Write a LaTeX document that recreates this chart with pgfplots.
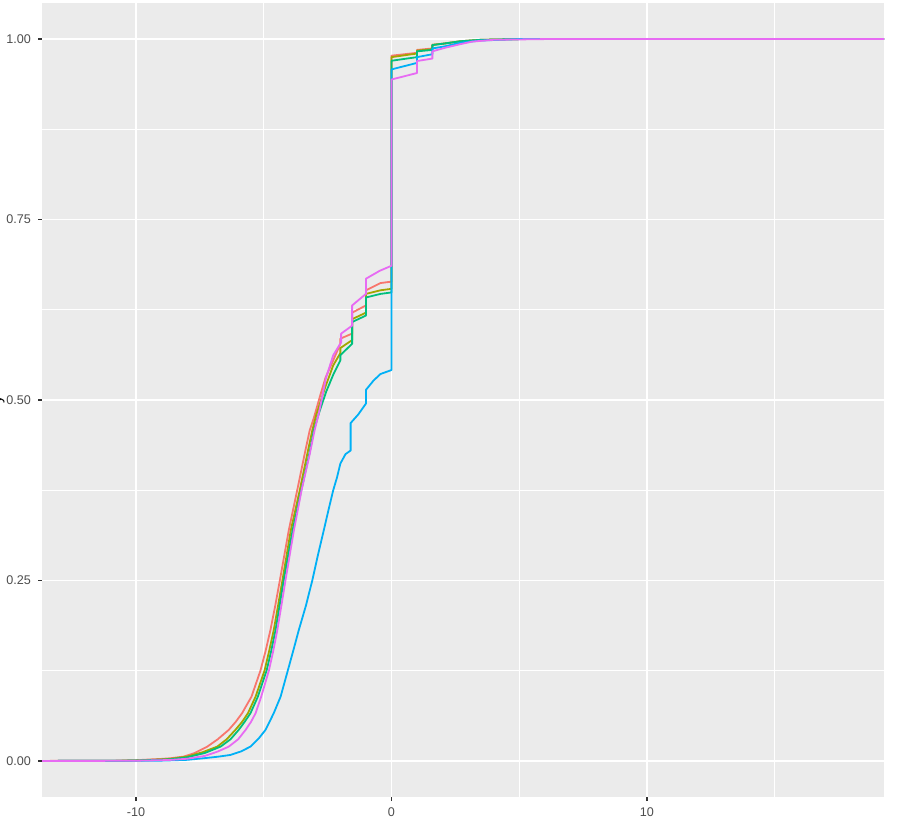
\documentclass[border=0pt]{standalone}
\usepackage{pgfplots}
\pgfplotsset{compat=1.18}
\usepackage{fontspec}
\setmainfont{Liberation Sans}
\definecolor{panelbg}{HTML}{EBEBEB}
\definecolor{tickc}{HTML}{333333}
\definecolor{labc}{HTML}{4D4D4D}
\definecolor{cA}{HTML}{F8766D}
\definecolor{cB}{HTML}{A3A500}
\definecolor{cC}{HTML}{00BF7D}
\definecolor{cD}{HTML}{00B0F6}
\definecolor{cE}{HTML}{E76BF3}
\begin{document}
\begin{tikzpicture}
\begin{axis}[name=ax, width=421pt, height=397pt, scale only axis,
 xmin=-13.68, xmax=19.28, ymin=-0.05, ymax=1.05,
 axis background/.style={fill=panelbg},
 axis line style={draw=none},
 xtick={-10,0,10}, xticklabels={-10,0,10},
 ytick={0,0.25,0.5,0.75,1}, yticklabels={0.00,0.25,0.50,0.75,1.00},
 minor xtick={-5,5,15}, minor ytick={0.125,0.375,0.625,0.875},
 grid=both,
 major grid style={white, line width=0.75pt},
 minor grid style={white, line width=0.4pt},
 tick align=outside, xtick pos=bottom, ytick pos=left,
 major tick length=2pt, minor tick length=0pt,
 tick style={color=tickc, line width=0.6pt},
 tick label style={font=\fontsize{6.3}{7}\selectfont, text=labc},
 /pgf/number format/assume math mode=true,
 every axis plot/.append style={line width=0.9pt, no marks, line join=round},
]
\addplot[cA] coordinates {(-13.68,0) (-11,0.0002) (-10,0.001) (-9,0.0028) (-8.65,0.0037) (-8.13,0.006) (-7.7,0.011) (-7.21,0.0198) (-6.8,0.03) (-6.37,0.043) (-6.1,0.054) (-5.85,0.066) (-5.48,0.089) (-5.13,0.125) (-4.93,0.152) (-4.74,0.181) (-4.55,0.215) (-4.37,0.25) (-4.02,0.3195) (-3.69,0.375) (-3.37,0.43) (-3.2,0.458) (-3.04,0.475) (-2.8,0.505) (-2.58,0.531) (-2.28,0.555) (-2,0.578) (-2,0.585) (-1.54,0.592) (-1.54,0.621) (-1,0.631) (-1,0.652) (-0.43,0.662) (0,0.664) (0,0.977) (1,0.981) (1,0.985) (1.6,0.987) (1.6,0.992) (2.1,0.994) (2.7,0.997) (3.5,0.999) (5,1) (19.28,1)};
\addplot[cB] coordinates {(-13.68,0) (-11,0.0001) (-10,0.0007) (-9,0.002) (-8.65,0.0028) (-8,0.006) (-7.4,0.012) (-6.82,0.0198) (-6.45,0.03) (-6.11,0.043) (-5.85,0.054) (-5.62,0.066) (-5.32,0.089) (-4.97,0.125) (-4.79,0.152) (-4.61,0.181) (-4.44,0.215) (-4.27,0.25) (-3.94,0.3195) (-3.59,0.375) (-3.28,0.428) (-3.1,0.458) (-2.94,0.48) (-2.6,0.517) (-2.28,0.548) (-2,0.565) (-2,0.572) (-1.54,0.583) (-1.54,0.612) (-1,0.621) (-1,0.647) (-0.43,0.652) (0,0.654) (0,0.975) (1,0.98) (1,0.984) (1.6,0.986) (1.6,0.992) (2.1,0.994) (2.7,0.997) (3.5,0.999) (5,1) (19.28,1)};
\addplot[cC] coordinates {(-13.68,0) (-11,0.0001) (-10,0.0005) (-9,0.0017) (-8.65,0.0024) (-8,0.005) (-7.3,0.011) (-6.69,0.0198) (-6.3,0.03) (-5.98,0.043) (-5.75,0.054) (-5.52,0.066) (-5.23,0.089) (-4.89,0.125) (-4.71,0.152) (-4.54,0.181) (-4.38,0.215) (-4.22,0.25) (-3.87,0.3195) (-3.53,0.375) (-3.2,0.428) (-3.04,0.458) (-2.81,0.485) (-2.55,0.512) (-2.28,0.535) (-2,0.555) (-2,0.562) (-1.54,0.578) (-1.54,0.608) (-1,0.617) (-1,0.642) (-0.43,0.647) (0,0.649) (0,0.97) (1,0.975) (1,0.983) (1.6,0.985) (1.6,0.9917) (2.1,0.994) (2.7,0.997) (3.5,0.999) (5,1) (19.28,1)};
\addplot[cD] coordinates {(-13.68,0) (-11,0.0001) (-10,0.0001) (-9,0.0004) (-8,0.0015) (-7.35,0.0037) (-6.8,0.0058) (-6.3,0.0083) (-5.9,0.013) (-5.52,0.0198) (-5.2,0.031) (-4.93,0.043) (-4.61,0.066) (-4.34,0.089) (-4.06,0.125) (-3.85,0.152) (-3.63,0.181) (-3.35,0.215) (-3.1,0.25) (-2.88,0.285) (-2.65,0.3195) (-2.45,0.35) (-2.28,0.375) (-2.13,0.393) (-2,0.412) (-1.8,0.425) (-1.6,0.43) (-1.6,0.468) (-1.3,0.48) (-1,0.495) (-1,0.514) (-0.7,0.527) (-0.43,0.536) (0,0.5415) (0,0.958) (1,0.967) (1,0.975) (1.6,0.979) (1.6,0.987) (2.1,0.99) (2.7,0.995) (3.5,0.998) (5,1) (19.28,1)};
\addplot[cE] coordinates {(-13.68,0) (-11,0.0001) (-10,0.0003) (-9,0.001) (-8.65,0.0014) (-8,0.003) (-7.3,0.007) (-6.8,0.013) (-6.37,0.0198) (-6,0.03) (-5.71,0.043) (-5.5,0.054) (-5.32,0.066) (-5.1,0.089) (-4.8,0.125) (-4.63,0.152) (-4.47,0.181) (-4.31,0.215) (-4.15,0.25) (-3.82,0.3195) (-3.52,0.375) (-3.2,0.425) (-3.01,0.458) (-2.84,0.482) (-2.56,0.531) (-2.28,0.562) (-1.97,0.58) (-1.97,0.592) (-1.54,0.603) (-1.54,0.631) (-1,0.647) (-1,0.668) (-0.46,0.679) (0,0.686) (0,0.944) (1,0.953) (1,0.9696) (1.6,0.973) (1.6,0.983) (2.1,0.988) (2.7,0.993) (3.16,0.9965) (4,0.999) (6,1) (19.28,1)};
\end{axis}
\node[rotate=90, anchor=base, font=\fontsize{7.7}{9}\selectfont, text=black] at ([xshift=-20.3pt]ax.west) {y};
\pgfresetboundingbox
\path[use as bounding box] ([shift={(-21pt,-11.5pt)}]ax.south west) rectangle ([shift={(7pt,1.5pt)}]ax.north east);
\end{tikzpicture}
\end{document}
